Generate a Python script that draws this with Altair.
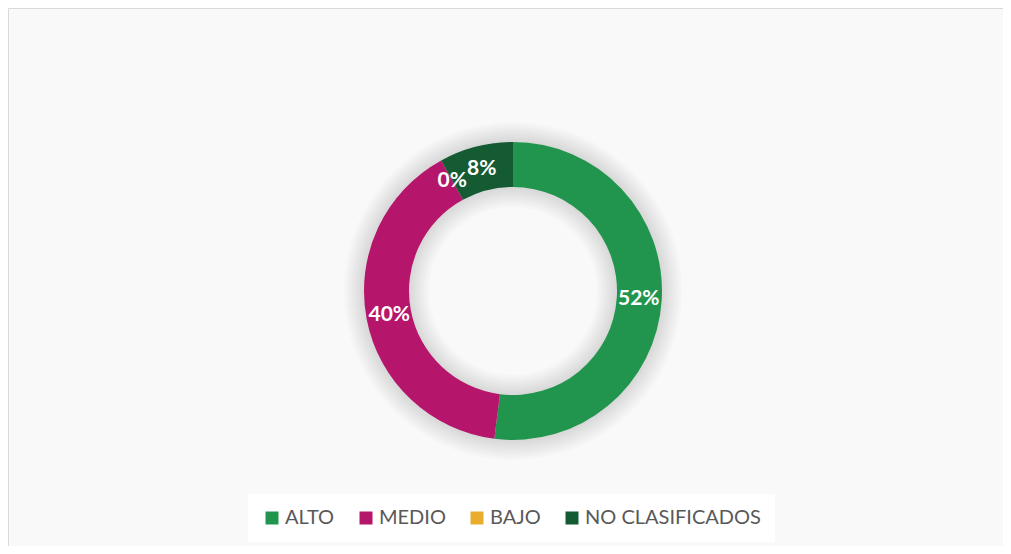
import altair as alt
import pandas as pd

categories = ["ALTO", "MEDIO", "BAJO", "NO CLASIFICADOS"]
values = [52, 40, 0, 8]
labels = ["52%", "40%", "0%", "8%"]
colors = ["#21954E", "#B6156C", "#E9AC2C", "#145A32"]

df = pd.DataFrame({
    "cat": categories,
    "value": values,
    "label": labels,
    "order": list(range(len(categories))),
})

CX, CY = 505, 283
R_OUT, R_IN = 149, 104

theta = alt.Theta("value:Q", stack=True)
order = alt.Order("order:Q", sort="ascending")
color = alt.Color(
    "cat:N",
    scale=alt.Scale(domain=categories, range=colors),
    sort=categories,
    legend=alt.Legend(
        title=None,
        orient="none",
        direction="horizontal",
        columns=4,
        legendX=240,
        legendY=486,
        symbolType="square",
        symbolSize=169,
        symbolStrokeWidth=0,
        labelFont="Lato",
        labelFontSize=20,
        labelColor="#595959",
        labelOffset=3,
        labelLimit=400,
        columnPadding=21,
        fillColor="#ffffff",
        padding=14,
    ),
)

# soft glow behind the ring
shadow_df = pd.DataFrame({"k": [0]})
shadows = []
for k in range(1, 9):
    shadows.append(
        alt.Chart(shadow_df).mark_arc(
            radius=R_OUT + 2.5 * k, radius2=R_IN - 2.5 * k,
            color="#000000", opacity=0.016, strokeWidth=0,
        ).encode(
            x=alt.value(CX), y=alt.value(CY),
            theta=alt.value(0), theta2=alt.value(6.2832),
        )
    )

base = alt.Chart(df)
arcs = base.mark_arc(radius=R_OUT, radius2=R_IN, strokeWidth=0).encode(
    theta=theta, color=color, order=order,
    x=alt.value(CX), y=alt.value(CY),
)
text = base.mark_text(
    radius=126, font="Lato", fontSize=21, fontWeight="bold",
    color="white", align="center", baseline="middle",
).encode(
    theta=theta, text="label:N", order=order,
    x=alt.value(CX), y=alt.value(CY),
)

chart = alt.layer(*shadows, arcs, text).properties(
    width=995, height=538,
    autosize=alt.AutoSizeParams(type="fit", contains="padding"),
    padding=0,
).configure_view(
    fill="#f9f9f9", stroke="#d9d9d9", strokeWidth=1,
)

chart.save("out.html", embed_options={"renderer": "svg", "actions": False})
